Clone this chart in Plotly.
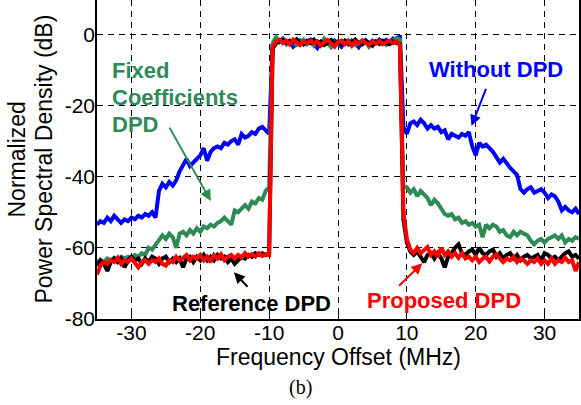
import plotly.graph_objects as go

# Frequency grid (MHz)
freq = [-35 + 0.5 * i for i in range(141)]

# ---- Without DPD (blue) ----
blue_left = [-53.5, -52.5, -53, -51.5, -52.5, -51, -52, -53, -52, -52.5,
             -51.5, -52, -51, -51.5, -50.5, -51, -50, -51.5, -44, -42,
             -43, -41.5, -42.5, -41, -38.5, -37, -35, -37, -36, -35,
             -34, -32, -35.5, -33, -32, -31.5, -32, -30.5, -31, -30,
             -29.5, -31, -28, -29, -28.5, -27.5, -28, -26.5, -26, -27, -28]
blue_in = [-3, -1.5, -2, -1.2, -2.5, -2, -3.5, -2.5, -1.8, -2.8,
           -2.2, -1.5, -2.5, -3.8, -2.2, -2.8, -2, -3, -1.8, -2.5,
           -3.5, -2, -2.8, -1.8, -2.5, -3.6, -2.2, -1.6, -2.6, -1.8,
           -2.4, -1.5, -2.2, -1.6, -2.4, -1.2, -1.8, -0.3]
blue_right = [-26, -28, -25, -24.5, -25.5, -24, -25, -26.5, -25.5, -26.5, -26,
              -27.5, -27, -29.5, -28, -28.5, -29, -28, -28.5, -27.5, -31.5,
              -34, -30.5, -31.5, -31, -32, -33, -34.5, -36, -35, -36.5,
              -37.5, -38.5, -39.5, -43.5, -44.5, -43.5, -43, -44.5, -44, -43.5,
              -44.5, -46, -45, -45.5, -47, -49.5, -48.5, -49.5, -50, -49, -50.5]

# ---- Fixed Coefficients DPD (green) ----
green_left = [-64, -63.5, -64, -63, -63.5, -62.8, -63.2, -62.5, -63, -62.5,
              -63, -62, -62.5, -61.5, -62, -60, -60.5, -59, -58, -56.5,
              -57.5, -56, -57, -60, -56, -55.5, -56.5, -55, -56, -54.5,
              -55.5, -54, -54.5, -53.5, -54, -53, -52.5, -51.5, -52.5, -53.5,
              -49.5, -50, -49, -48, -49, -47, -47.5, -46, -46.5, -44, -43]
green_in = [-2.5, -0.8, -2.2, -1.5, -2.8, -1.8, -2.5, -3, -2.2, -1.5,
            -2.8, -2.2, -3.2, -2, -2.6, -1.2, -2.4, -3.6, -2.2, -2.8,
            -2, -2.6, -1.6, -2.4, -3, -2.2, -2.8, -2, -3.5, -2.4,
            -1.8, -2.8, -2.2, -3, -2.2, -1.8, -1, -1.5]
green_right = [-43, -43, -44.5, -43.5, -45.5, -44, -45, -46, -48, -46.5, -47.5,
               -49, -50.5, -51, -50.5, -52, -51.5, -53, -52.5, -53.5, -53,
               -54, -53.5, -57, -53.5, -54.5, -53.5, -54, -55.5, -55, -56.5,
               -57, -55.5, -56.5, -55.5, -56, -56.5, -58, -59, -58, -57.5,
               -58.5, -57.5, -57, -56.5, -57.5, -56.5, -58.5, -57.5, -58, -57, -57.5]

# ---- Reference DPD (black) ----
black_left = [-65, -63.5, -64.5, -66.5, -64, -63, -64, -63, -65.5, -63.5,
              -62.5, -63.5, -63, -64.5, -63, -64, -62.5, -63, -64.5, -63,
              -62.5, -64, -63, -64, -63, -65.5, -63, -62.5, -64, -62.5,
              -63.5, -62, -63.5, -62.5, -63.5, -62, -63, -62.5, -64, -63,
              -64.5, -63.5, -62.5, -63, -62, -62.5, -61.5, -62, -61.5, -62, -61.5]
black_in = [-4, -2.5, -2, -1.6, -2.4, -1.8, -2.2, -1.4, -2.5, -2.8,
            -1.8, -2.4, -1.5, -2.6, -2, -3, -2.4, -1.6, -2.6, -2,
            -2.8, -1.8, -2.5, -2.2, -1.5, -2.4, -2.8, -1.9, -2.5, -3.2,
            -2.1, -2.6, -1.8, -2.5, -2.8, -2, -2.4, -2.8]
black_right = [-52, -58.5, -61, -62, -61, -62.5, -64, -62, -61.5, -63, -61.5,
               -63, -65.5, -62.5, -61.5, -60, -59, -61.5, -62, -61, -60.5,
               -62, -60, -61.5, -62, -61, -60.5, -62.5, -61.5, -63, -62,
               -61.5, -63, -62, -63.5, -62.5, -62, -63, -62.5, -62, -63.5,
               -61.5, -62, -63, -62.5, -63.5, -62.5, -61.5, -61, -62.5, -62, -63]

# ---- Proposed DPD (red) ----
red_left = [-67.5, -65, -64, -64.5, -63.5, -64, -62.8, -64.5, -63.5, -64,
            -63, -64.5, -65.5, -64, -63.5, -64.5, -63.5, -64, -63, -64.5,
            -65, -63.5, -64, -62.5, -63.5, -62.8, -62, -63.5, -62.5, -63,
            -62, -63.5, -62.5, -64, -62, -63, -61.8, -63.5, -62.5, -62,
            -63, -62, -62.8, -61.5, -62.5, -61.8, -62.5, -61.5, -62.3, -61.8, -62]
red_in = [-3.5, -2, -1.5, -2.5, -1.8, -2.8, -1.5, -2.2, -3, -2,
          -2.5, -1.8, -2.6, -2, -3.2, -2.2, -1.6, -2.5, -3.5, -2.2,
          -1.8, -2.8, -2, -3.2, -2, -2.6, -1.7, -2.4, -3, -2,
          -2.6, -1.9, -2.8, -2.2, -1.8, -2.5, -2, -3]
red_right = [-50, -57.5, -60.5, -61.5, -60, -61.5, -60.5, -59.8, -62, -61, -62.5,
             -60, -62, -61, -62.5, -61.5, -62.8, -61.5, -63, -62.5, -63.5,
             -62.5, -64, -63, -62.5, -63.8, -62.5, -61.8, -63, -64, -63,
             -63.5, -62.5, -64, -63, -63.5, -64.5, -63.5, -64, -63, -64.5,
             -63.5, -64.5, -63, -64.5, -63.5, -64, -62.8, -64, -63.5, -66.5, -64]

series = [
    ("Without DPD", blue_left + blue_in + blue_right, "#0000FF"),
    ("Fixed Coefficients DPD", green_left + green_in + green_right, "#2E8B57"),
    ("Reference DPD", black_left + black_in + black_right, "#000000"),
    ("Proposed DPD", red_left + red_in + red_right, "#FF0000"),
]

x_ticks = [-30, -20, -10, 0, 10, 20, 30]
y_ticks = [-80, -60, -40, -20, 0]

fig = go.Figure()
for name, vals, col in series:
    fig.add_trace(go.Scatter(x=freq, y=vals, mode="lines", name=name,
                             line=dict(color=col, width=4), showlegend=False))

SANS = "Liberation Sans, Arial, sans-serif"

def xpx(px):
    return (px - 338.7) / 6.86

def ypx(py):
    return (34.3 - py) * 0.2813

ann = []
ann.append(dict(x=xpx(496), y=ypx(69), text="<b>Without DPD</b>", showarrow=False,
                xanchor="center", yanchor="middle",
                font=dict(family=SANS, size=22, color="#0000FF")))
for i, t in enumerate(["Fixed", "Coefficients", "DPD"]):
    ann.append(dict(x=xpx(112), y=ypx(70 + 27 * i), text="<b>%s</b>" % t, showarrow=False,
                    xanchor="left", yanchor="middle",
                    font=dict(family=SANS, size=22, color="#2E8B57")))
ann.append(dict(x=xpx(253), y=ypx(303), text="<b>Reference DPD</b>", showarrow=False,
                xanchor="center", yanchor="middle",
                font=dict(family=SANS, size=22, color="#000000")))
ann.append(dict(x=xpx(444), y=ypx(300), text="<b>Proposed DPD</b>", showarrow=False,
                xanchor="center", yanchor="middle",
                font=dict(family=SANS, size=22, color="#FF0000")))
for (tx, ty, hx, hy, col) in [
    (486.7, 87.3, 471.7, 126, "#0000FF"),
    (170, 126, 212, 200.7, "#2E8B57"),
    (250, 288, 235, 272, "#000000"),
    (398, 287, 422.7, 263, "#FF0000"),
]:
    ann.append(dict(x=xpx(hx), y=ypx(hy), ax=xpx(tx), ay=ypx(ty), axref="x", ayref="y",
                    text="", showarrow=True, arrowhead=2, arrowsize=1.1, arrowwidth=2,
                    arrowcolor=col))
# axis titles and caption
ann.append(dict(x=0, y=-0.12, xref="x", yref="paper", text="Frequency Offset (MHz)",
                xanchor="center", yanchor="middle",
                showarrow=False, font=dict(family=SANS, size=23, color="black")))
ann.append(dict(x=-0.166, y=0.5, xref="paper", yref="paper", text="Normalized", textangle=-90,
                xanchor="center", yanchor="middle",
                showarrow=False, font=dict(family=SANS, size=23, color="black")))
ann.append(dict(x=-0.112, y=0.5, xref="paper", yref="paper", text="Power Spectral Density (dB)",
                textangle=-90, xanchor="center", yanchor="middle",
                showarrow=False, font=dict(family=SANS, size=23, color="black")))
ann.append(dict(x=xpx(301.5), y=-0.215, xref="x", yref="paper", text="(b)", showarrow=False,
                xanchor="center", yanchor="middle",
                font=dict(family="Liberation Serif, Times New Roman, serif", size=20, color="black")))

fig.update_layout(
    width=581, height=405,
    margin=dict(l=97, r=2, t=0, b=86),
    paper_bgcolor="white", plot_bgcolor="white",
    annotations=ann,
)
fig.update_xaxes(range=[-35, 35], tickvals=x_ticks, ticktext=[str(v) for v in x_ticks],
                 showgrid=True, gridcolor="black", gridwidth=1, griddash="6px,5px",
                 zeroline=False, showline=True, linecolor="black", linewidth=1.5,
                 ticks="inside", ticklen=5, tickcolor="black", ticklabelstandoff=-6,
                 tickfont=dict(family=SANS, size=21, color="black"))
fig.update_yaxes(range=[-80, 9.65], tickvals=y_ticks, ticktext=[str(v) for v in y_ticks],
                 showgrid=True, gridcolor="black", gridwidth=1, griddash="6px,5px",
                 zeroline=False, showline=True, mirror=True, linecolor="black", linewidth=1.5,
                 ticks="inside", ticklen=5, tickcolor="black", ticklabelstandoff=-4,
                 tickfont=dict(family=SANS, size=21, color="black"))

fig.write_html("out.html", config={"displayModeBar": False},
               post_script="document.body.style.margin='0';")
